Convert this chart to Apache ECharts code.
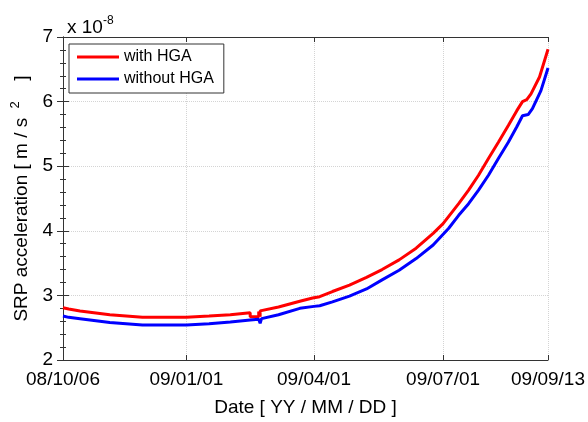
<!DOCTYPE html>
<html>
<head>
<meta charset="utf-8">
<script src="https://cdn.jsdelivr.net/npm/echarts@6/dist/echarts.min.js"></script>
<style>html,body{margin:0;padding:0;background:#fff;}#c{width:588px;height:422px;}</style>
</head>
<body>
<div id="c"></div>
<script>
// Tick dates and labels
const tickDates = ['2008-10-06', '2009-01-01', '2009-04-01', '2009-07-01', '2009-09-13'];
const tickLabels = ['08/10/06', '09/01/01', '09/04/01', '09/07/01', '09/09/13'];
const yTicks = [2, 3, 4, 5, 6, 7];

// Series: with HGA
const redDates = ['2008-10-06','2008-10-10','2008-10-18','2008-11-08','2008-12-01','2009-01-01','2009-01-17','2009-02-01','2009-02-15','2009-02-15','2009-02-21','2009-02-21','2009-02-22','2009-02-22','2009-02-23','2009-03-07','2009-03-22','2009-03-31','2009-04-05','2009-04-14','2009-04-26','2009-05-08','2009-05-19','2009-05-31','2009-06-12','2009-06-24','2009-07-01','2009-07-12','2009-07-19','2009-07-26','2009-08-02','2009-08-09','2009-08-16','2009-08-22','2009-08-26','2009-08-29','2009-09-01','2009-09-07','2009-09-13'];
const redValues = [2.81,2.79,2.76,2.70,2.66,2.66,2.68,2.70,2.73,2.67,2.67,2.75,2.67,2.76,2.76,2.82,2.91,2.96,2.98,3.06,3.16,3.28,3.40,3.55,3.73,3.96,4.11,4.42,4.63,4.86,5.12,5.37,5.63,5.86,6.00,6.03,6.12,6.38,6.81];

// Series: without HGA
const blueDates = ['2008-10-06','2008-10-10','2008-10-18','2008-11-08','2008-12-01','2009-01-01','2009-01-17','2009-02-01','2009-02-15','2009-02-21','2009-02-22','2009-02-23','2009-03-07','2009-03-22','2009-04-01','2009-04-05','2009-04-14','2009-04-26','2009-05-08','2009-05-19','2009-05-31','2009-06-12','2009-06-24','2009-07-05','2009-07-12','2009-07-19','2009-07-26','2009-08-02','2009-08-09','2009-08-16','2009-08-22','2009-08-26','2009-08-30','2009-09-02','2009-09-08','2009-09-13'];
const blueValues = [2.68,2.66,2.64,2.58,2.54,2.54,2.56,2.59,2.62,2.63,2.57,2.64,2.70,2.80,2.83,2.84,2.90,2.99,3.10,3.24,3.39,3.57,3.78,4.04,4.24,4.42,4.63,4.86,5.12,5.37,5.61,5.78,5.80,5.89,6.17,6.52];

function toTs(s) { const p = s.split('-'); return Date.UTC(+p[0], +p[1] - 1, +p[2]); }
const T0 = toTs(tickDates[0]);
function toDay(s) { return Math.round((toTs(s) - T0) / 86400000); }
const tickDays = tickDates.map(toDay);
const FONT = 'Liberation Sans, Arial, Helvetica, sans-serif';
const AX = '#333';

const chart = echarts.init(document.getElementById('c'), null, {renderer: 'canvas'});
const xBase = {
  type: 'value', min: tickDays[0], max: tickDays[tickDays.length - 1],
  axisLine: {show: true, lineStyle: {color: AX, width: 1}},
  axisTick: {show: true, inside: true, length: 5, customValues: tickDays, lineStyle: {color: AX}},
  splitLine: {show: false},
  minorTick: {show: false}
};
const yBase = {
  type: 'value', min: 2, max: 7, interval: 1,
  axisLine: {show: true, lineStyle: {color: AX, width: 1}},
  axisTick: {show: true, inside: true, length: 6, lineStyle: {color: AX}},
  minorTick: {show: true, splitNumber: 5, length: 3, lineStyle: {color: AX}},
  splitLine: {show: false}
};
chart.setOption({
  animation: false,
  backgroundColor: '#fff',
  textStyle: {fontFamily: FONT},
  title: {
    left: 62, top: 10,
    text: '{a|x 10}{b|-8}',
    textStyle: {fontWeight: 'normal', rich: {
      a: {fontSize: 19, fontFamily: FONT, fontWeight: 'normal', color: '#000', lineHeight: 22, verticalAlign: 'bottom'},
      b: {fontSize: 12, fontFamily: FONT, fontWeight: 'normal', color: '#000', lineHeight: 22, verticalAlign: 'top'}
    }}
  },
  legend: {
    orient: 'vertical', left: 69, top: 44,
    padding: [5, 10, 6, 8], itemGap: 6,
    itemWidth: 42, itemHeight: 3, icon: 'rect',
    borderColor: '#333', borderWidth: 1, backgroundColor: '#fff',
    textStyle: {fontSize: 16, fontFamily: FONT, color: '#000', lineHeight: 16},
    data: ['with HGA', 'without HGA']
  },
  grid: {left: 63, right: 39, top: 37, bottom: 61, containLabel: false},
  xAxis: [
    Object.assign({}, xBase, {
      position: 'bottom',
      name: 'Date [ YY / MM / DD ]', nameLocation: 'middle', nameGap: 38,
      nameTextStyle: {fontSize: 19, fontFamily: FONT, color: '#000'},
      axisLabel: {show: true, customValues: tickDays, margin: 10, fontSize: 19, fontFamily: FONT, color: '#000',
        formatter: function (v) { const i = tickDays.indexOf(v); return i >= 0 ? tickLabels[i] : ''; }},
      splitLine: {show: true, lineStyle: {color: '#d4d4d4', type: 'dotted', width: 1}}
    }),
    Object.assign({}, xBase, {position: 'top', axisLabel: {show: false}})
  ],
  yAxis: [
    Object.assign({}, yBase, {
      position: 'left',
      name: '{a|SRP acceleration [ m / s }{b|2}{a|  ]}', nameLocation: 'middle', nameGap: 32, nameRotate: 90,
      nameTextStyle: {rich: {
        a: {fontSize: 19, fontFamily: FONT, color: '#000', lineHeight: 22, verticalAlign: 'bottom'},
        b: {fontSize: 13, fontFamily: FONT, color: '#000', lineHeight: 22, verticalAlign: 'top', padding: [0, 10, 0, 4]}
      }},
      axisLabel: {show: true, margin: 10, fontSize: 19, fontFamily: FONT, color: '#000',
        formatter: function (v) { return yTicks.indexOf(v) >= 0 ? String(v) : ''; }},
      splitLine: {show: true, lineStyle: {color: '#d4d4d4', type: 'dotted', width: 1}}
    }),
    Object.assign({}, yBase, {position: 'right', axisLabel: {show: false}})
  ],
  series: [
    {name: 'with HGA', type: 'line', showSymbol: false, symbol: 'none', color: '#ff0000',
      lineStyle: {width: 3, color: '#ff0000'},
      data: redDates.map(function (d, i) { return [toDay(d), redValues[i]]; })},
    {name: 'without HGA', type: 'line', showSymbol: false, symbol: 'none', color: '#0000ff',
      lineStyle: {width: 3, color: '#0000ff'},
      data: blueDates.map(function (d, i) { return [toDay(d), blueValues[i]]; })}
  ]
});
</script>
</body>
</html>
